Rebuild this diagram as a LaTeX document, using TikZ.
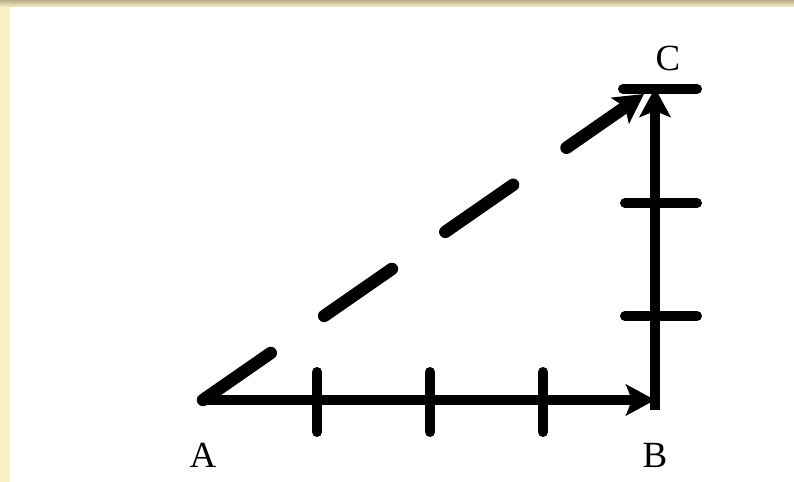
\documentclass[tikz,border=0pt]{standalone}
\usepackage{fontspec}
\setmainfont{Liberation Serif}
\usetikzlibrary{arrows.meta}
\definecolor{cornice}{HTML}{FBEEC6}
\definecolor{bordo}{HTML}{B8AC86}
\begin{document}
\begin{tikzpicture}[x=0.02cm,y=-0.02cm,
    vettore/.style={line width=0.21cm,-{Stealth[length=0.58cm,width=0.62cm,inset=0.12cm]}},
    tratteggio/.style={line width=0.25cm,line cap=round,dash pattern=on 1.65cm off 1.3cm},
    tacca/.style={line width=0.2cm,line cap=round},
    etichetta/.style={font=\fontsize{21}{24}\selectfont}]
    % --- riquadro di fondo ---------------------------------------------
    \useasboundingbox (0,0) rectangle (794,482);
    \fill[white] (0,0) rectangle (794,482);
    \fill[cornice] (0,0) rectangle (10,482);
    \shade[top color=bordo,bottom color=cornice] (0,0) rectangle (794,7);
    % --- vertici --------------------------------------------------------
    \coordinate (A) at (203,400);
    \coordinate (B) at (655,400);
    \coordinate (C) at (655,88);
    \coordinate (Bsotto) at (655,410);
    \coordinate (Cpunta) at (644,94);
    \node[etichetta] (lA) at (203,455) {A};
    \node[etichetta] (lB) at (655,455) {B};
    \node[etichetta] (lC) at (668,58) {C};
    % --- lati -----------------------------------------------------------
    \draw[vettore] (A) -- (B);
    \draw[vettore] (Bsotto) -- (C);
    \draw[vettore,tratteggio] (A) -- (Cpunta);
    \draw[tacca] (623,89) -- (697,89);
    % --- tacche ---------------------------------------------------------
    \foreach \x in {317,430,543}
        \draw[tacca] (\x,372) -- (\x,432);
    \foreach \y in {203,316}
        \draw[tacca] (625,\y) -- (697,\y);
\end{tikzpicture}
\end{document}
